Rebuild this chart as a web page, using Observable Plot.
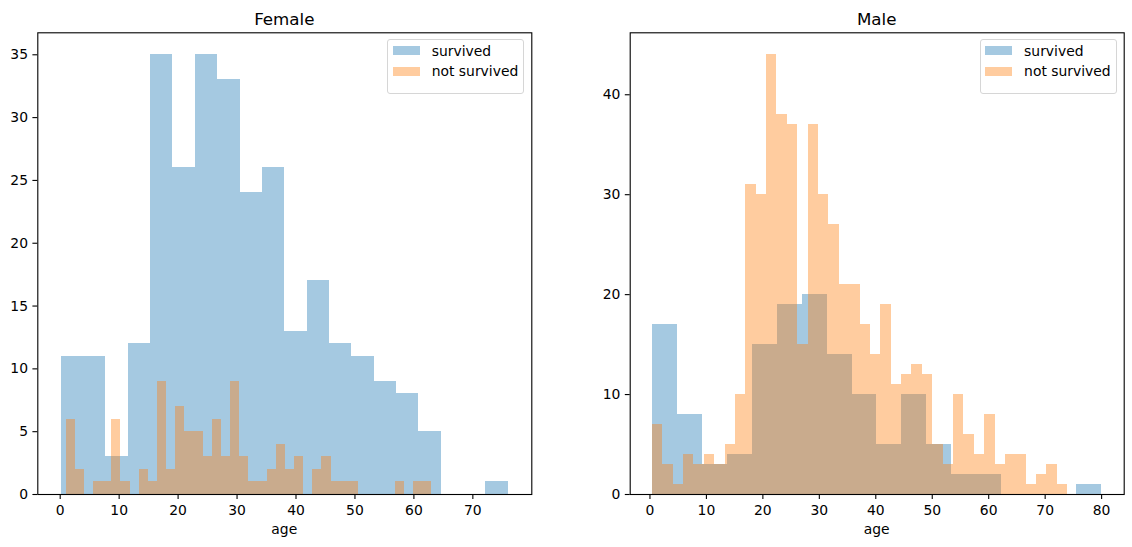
<!DOCTYPE html>
<html>
<head>
<meta charset="utf-8">
<script src="https://cdn.jsdelivr.net/npm/d3@7"></script>
<script src="https://cdn.jsdelivr.net/npm/@observablehq/plot@0.6"></script>
<style>
  html, body { margin: 0; padding: 0; background: #fff; }
  body { width: 1132px; height: 547px; position: relative; overflow: hidden; font-family: "DejaVu Sans", sans-serif; color: #000; }
  .abs { position: absolute; line-height: 1; white-space: nowrap; }
  .title { font-size: 16.7px; transform: translateX(-50%); }
  .xlabel { font-size: 13.9px; transform: translateX(-50%); }
  .legend { position: absolute; box-sizing: border-box; border: 1px solid #d6d6d6; border-radius: 3px; background: rgba(255,255,255,0.8); }
  .patch { position: absolute; }
  .ltext { position: absolute; font-size: 13.9px; line-height: 1; white-space: nowrap; }
  .panel { position: absolute; top: 28px; }
</style>
</head>
<body>
<script>
// ---- data ----
const seriesNames = ["survived", "not survived"];
const panelTitles = ["Female", "Male"];
const xAxisLabel = "age";

// Female, survived: 20 bins from 0.17 to 76
const femaleSurvivedRange = [0.17, 76];
const femaleSurvivedCounts = [11, 11, 3, 12, 35, 26, 35, 33, 24, 26, 13, 17, 12, 11, 9, 8, 5, 0, 0, 1];

// Female, not survived: 40 bins from 1 to 63
const femaleNotRange = [1, 63];
const femaleNotCounts = [6, 2, 0, 1, 1, 6, 1, 0, 2, 1, 9, 2, 7, 5, 5, 3, 6, 3, 9, 3,
                         1, 1, 2, 4, 2, 3, 0, 2, 3, 1, 1, 1, 0, 0, 0, 0, 1, 0, 1, 1];

// Male, survived: 18 bins from 0.42 to 80
const maleSurvivedRange = [0.42, 80];
const maleSurvivedCounts = [17, 8, 3, 4, 15, 19, 20, 14, 10, 5, 10, 5, 2, 2, 0, 0, 0, 1];

// Male, not survived: 40 bins from 0.42 to 74
const maleNotRange = [0.42, 74];
const maleNotCounts = [7, 3, 1, 4, 3, 4, 3, 5, 10, 31, 30, 44, 38, 37, 15, 37, 30, 27, 21, 21,
                       17, 14, 19, 11, 12, 13, 12, 5, 3, 10, 6, 4, 8, 3, 4, 4, 1, 2, 3, 1];

const femaleXTicks = [0, 10, 20, 30, 40, 50, 60, 70];
const maleXTicks = [0, 10, 20, 30, 40, 50, 60, 70, 80];
const femaleYTicks = [0, 5, 10, 15, 20, 25, 30, 35];
const maleYTicks = [0, 10, 20, 30, 40];

const femaleXDomain = [-3.8, 80.0];
const maleXDomain = [-3.5, 84.0];
const femaleYDomain = [0, 36.75];
const maleYDomain = [0, 46.2];

const colors = ["#1f77b4", "#ff7f0e"];
const alpha = 0.4;

// build histogram bin tables from bin ranges and counts
function bins(range, counts) {
  const [lo, hi] = range;
  const w = (hi - lo) / counts.length;
  return counts.map((n, i) => ({x1: lo + i * w, x2: lo + (i + 1) * w, n}));
}

function panel(opts) {
  return Plot.plot({
    width: 566,
    height: 519,
    marginLeft: opts.marginLeft,
    marginRight: opts.marginRight,
    marginTop: 4.3,
    marginBottom: 53,
    style: {fontFamily: "DejaVu Sans", fontSize: "13.9px", color: "black", background: "transparent"},
    x: {domain: opts.xDomain},
    y: {domain: opts.yDomain},
    marks: [
      Plot.rectY(bins(opts.survRange, opts.survCounts), {x1: "x1", x2: "x2", y: "n", fill: colors[0], fillOpacity: alpha, shapeRendering: "crispEdges"}),
      Plot.rectY(bins(opts.notRange, opts.notCounts), {x1: "x1", x2: "x2", y: "n", fill: colors[1], fillOpacity: alpha, shapeRendering: "crispEdges"}),
      Plot.axisX({ticks: opts.xTicks, tickSize: 4.9, tickPadding: 6, label: null, tickFormat: d => String(d), strokeWidth: 1.1}),
      Plot.axisY({ticks: opts.yTicks, tickSize: 4.9, tickPadding: 4.9, label: null, tickFormat: d => String(d), strokeWidth: 1.1}),
      Plot.frame({stroke: "black", strokeWidth: 1.1})
    ]
  });
}

function addPanel(left, opts, title, frameLeft, frameRight) {
  const div = document.createElement("div");
  div.className = "panel";
  div.style.left = left + "px";
  div.appendChild(panel(opts));
  document.body.appendChild(div);

  const center = (frameLeft + frameRight) / 2;
  const t = document.createElement("div");
  t.className = "abs title";
  t.textContent = title;
  t.style.left = center + "px";
  t.style.top = "10.9px";
  document.body.appendChild(t);

  const xl = document.createElement("div");
  xl.className = "abs xlabel";
  xl.textContent = xAxisLabel;
  xl.style.left = center + "px";
  xl.style.top = "522.6px";
  document.body.appendChild(xl);

  // legend
  const lg = document.createElement("div");
  lg.className = "legend";
  const boxLeft = frameRight - 144;
  lg.style.left = boxLeft + "px";
  lg.style.top = "39.3px";
  lg.style.width = "137px";
  lg.style.height = "54.7px";
  document.body.appendChild(lg);
  seriesNames.forEach((name, i) => {
    const p = document.createElement("div");
    p.className = "patch";
    p.style.left = (boxLeft + 5.4) + "px";
    p.style.top = (45.7 + i * 21) + "px";
    p.style.width = "27.3px";
    p.style.height = "9.7px";
    p.style.background = colors[i];
    p.style.opacity = alpha;
    document.body.appendChild(p);
    const s = document.createElement("div");
    s.className = "ltext";
    s.textContent = name;
    s.style.left = (boxLeft + 44.4) + "px";
    s.style.top = (44.6 + i * 20.4) + "px";
    document.body.appendChild(s);
  });
}

addPanel(0, {
  marginLeft: 37.3, marginRight: 34.7,
  xDomain: femaleXDomain, yDomain: femaleYDomain,
  xTicks: femaleXTicks, yTicks: femaleYTicks,
  survRange: femaleSurvivedRange, survCounts: femaleSurvivedCounts,
  notRange: femaleNotRange, notCounts: femaleNotCounts
}, panelTitles[0], 37.3, 531.3);

addPanel(566, {
  marginLeft: 63.7, marginRight: 8.3,
  xDomain: maleXDomain, yDomain: maleYDomain,
  xTicks: maleXTicks, yTicks: maleYTicks,
  survRange: maleSurvivedRange, survCounts: maleSurvivedCounts,
  notRange: maleNotRange, notCounts: maleNotCounts
}, panelTitles[1], 629.7, 1123.7);
</script>
</body>
</html>
